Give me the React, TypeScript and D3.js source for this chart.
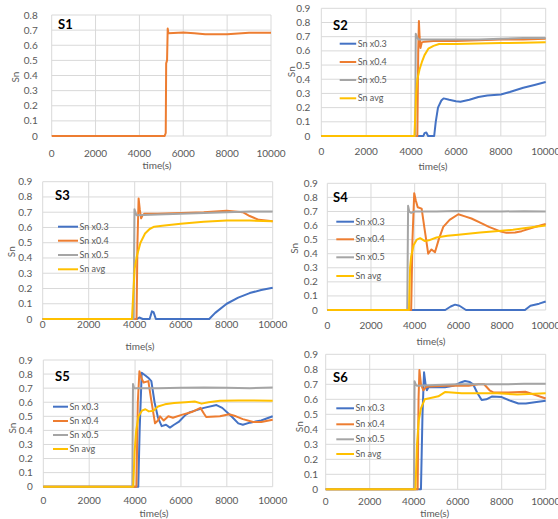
import React from "react";
import * as d3 from "d3";

type Pt = [number, number];

const TIME_TICKS = [0, 2000, 4000, 6000, 8000, 10000];
const SERIES_NAMES = ["Sn x0.3", "Sn x0.4", "Sn x0.5", "Sn avg"];
const COLORS = ["#4472C4", "#ED7D31", "#A5A5A5", "#FFC000"];

// S1 - single series
const S1_X04: Pt[] = [[0,0],[5150,0],[5200,0.02],[5220,0.48],[5260,0.5],[5290,0.71],[5320,0.68],[6000,0.685],[6500,0.68],[7000,0.672],[8000,0.672],[8500,0.678],[9000,0.682],[10000,0.682]];

// S2
const S2_X03: Pt[] = [[0,0],[4550,0],[4600,0.02],[4680,0.025],[4760,0],[5030,0],[5100,0.1],[5200,0.2],[5350,0.25],[5450,0.265],[5700,0.255],[6000,0.245],[6200,0.242],[6600,0.255],[7000,0.275],[7400,0.285],[8000,0.293],[8400,0.31],[9000,0.34],[9500,0.36],[10000,0.38]];
const S2_X04: Pt[] = [[0,0],[4280,0],[4320,0.6],[4350,0.81],[4380,0.7],[4420,0.62],[4480,0.66],[4600,0.665],[5000,0.67],[6000,0.67],[7000,0.675],[8000,0.68],[9000,0.68],[10000,0.685]];
const S2_X05: Pt[] = [[0,0],[4180,0],[4210,0.72],[4260,0.7],[4330,0.68],[5000,0.68],[6000,0.68],[7000,0.68],[8000,0.685],[9000,0.69],[10000,0.69]];
const S2_AVG: Pt[] = [[0,0],[4150,0],[4230,0.3],[4280,0.4],[4380,0.47],[4480,0.52],[4600,0.57],[4770,0.615],[5000,0.635],[5250,0.648],[6000,0.648],[7000,0.652],[8000,0.655],[9000,0.658],[10000,0.66]];

// S3
const S3_X03: Pt[] = [[0,0],[4100,0],[4200,0.01],[4350,0],[4650,0],[4750,0.05],[4820,0.045],[4920,0],[7240,0],[7500,0.04],[8000,0.1],[8500,0.14],[9000,0.17],[9500,0.19],[10000,0.205]];
const S3_X04: Pt[] = [[0,0],[4080,0],[4120,0.5],[4170,0.79],[4220,0.72],[4280,0.66],[4340,0.68],[4420,0.69],[5000,0.69],[6000,0.695],[7000,0.7],[8000,0.71],[8700,0.7],[9000,0.675],[9400,0.65],[10000,0.64]];
const S3_X05: Pt[] = [[0,0],[3950,0],[3990,0.72],[4030,0.7],[4080,0.68],[5000,0.685],[6000,0.69],[7000,0.695],[8000,0.7],[9000,0.705],[10000,0.705]];
const S3_AVG: Pt[] = [[0,0],[3880,0],[3950,0.2],[4000,0.33],[4090,0.41],[4250,0.5],[4450,0.56],[4650,0.59],[4850,0.605],[5200,0.612],[6000,0.625],[7000,0.638],[8000,0.645],[9000,0.645],[10000,0.64]];

// S4
const S4_X03: Pt[] = [[0,0],[3900,0],[5400,0],[5650,0.025],[5850,0.038],[6050,0.03],[6350,0],[9050,0],[9300,0.03],[9700,0.045],[10000,0.06]];
const S4_X04: Pt[] = [[0,0],[3840,0],[3900,0.5],[3980,0.83],[4050,0.78],[4140,0.73],[4320,0.72],[4450,0.58],[4620,0.4],[4770,0.43],[4930,0.41],[5100,0.5],[5310,0.59],[5600,0.64],[6000,0.68],[6300,0.665],[6600,0.65],[7000,0.62],[7400,0.59],[7900,0.56],[8200,0.548],[8600,0.55],[8900,0.56],[9500,0.59],[10000,0.612]];
const S4_X05: Pt[] = [[0,0],[3660,0],[3700,0.74],[3750,0.7],[3840,0.69],[4000,0.7],[5000,0.7],[6000,0.703],[7000,0.7],[8000,0.7],[9000,0.702],[10000,0.7]];
const S4_AVG: Pt[] = [[0,0],[3740,0],[3790,0.3],[3840,0.38],[3950,0.46],[4100,0.5],[4250,0.51],[4470,0.49],[4650,0.495],[5000,0.515],[5500,0.527],[6000,0.535],[7000,0.55],[7700,0.56],[8500,0.57],[9000,0.58],[10000,0.6]];

// S5
const S5_X03: Pt[] = [[0,0],[4140,0],[4200,0.4],[4290,0.81],[4450,0.79],[4600,0.77],[4710,0.75],[4850,0.6],[5000,0.49],[5160,0.43],[5350,0.44],[5520,0.42],[5700,0.44],[5900,0.46],[6200,0.51],[6400,0.53],[7000,0.56],[7550,0.58],[7800,0.56],[8200,0.5],[8500,0.45],[8700,0.44],[9000,0.455],[9500,0.47],[10000,0.5]];
const S5_X04: Pt[] = [[0,0],[4060,0],[4120,0.6],[4190,0.82],[4280,0.77],[4370,0.74],[4580,0.75],[4700,0.62],[4870,0.45],[5000,0.47],[5090,0.5],[5250,0.47],[5450,0.5],[5650,0.49],[6030,0.51],[6470,0.53],[6850,0.56],[7000,0.52],[7100,0.495],[7700,0.5],[8100,0.515],[8400,0.5],[8700,0.48],[9150,0.46],[9500,0.46],[10000,0.475]];
const S5_X05: Pt[] = [[0,0],[3880,0],[3910,0.73],[3960,0.7],[4050,0.7],[5000,0.7],[6000,0.703],[7000,0.705],[8000,0.702],[9000,0.7],[10000,0.705]];
const S5_AVG: Pt[] = [[0,0],[3920,0],[3980,0.25],[4050,0.4],[4150,0.5],[4300,0.54],[4450,0.55],[4600,0.535],[4800,0.54],[5000,0.57],[5300,0.585],[5700,0.595],[6200,0.6],[6600,0.605],[6900,0.59],[7200,0.6],[7700,0.61],[8500,0.612],[9000,0.612],[10000,0.61]];

// S6
const S6_X03: Pt[] = [[0,0],[4330,0],[4400,0.5],[4470,0.78],[4540,0.7],[4600,0.66],[4670,0.68],[5000,0.68],[5420,0.68],[5800,0.69],[6100,0.71],[6330,0.722],[6550,0.715],[6700,0.7],[6900,0.64],[7090,0.595],[7300,0.6],[7550,0.618],[8000,0.615],[8400,0.59],[8760,0.572],[9100,0.572],[9500,0.58],[10000,0.59]];
const S6_X04: Pt[] = [[0,0],[4180,0],[4220,0.6],[4260,0.795],[4330,0.7],[4440,0.66],[4550,0.68],[4670,0.685],[5500,0.69],[6500,0.69],[6940,0.7],[7200,0.7],[7450,0.66],[7640,0.645],[8300,0.645],[9076,0.65],[9500,0.63],[10000,0.605]];
const S6_X05: Pt[] = [[0,0],[4010,0],[4040,0.72],[4090,0.7],[4150,0.69],[5000,0.695],[6000,0.7],[7000,0.7],[8000,0.7],[9000,0.703],[10000,0.703]];
const S6_AVG: Pt[] = [[0,0],[4080,0],[4150,0.3],[4230,0.46],[4330,0.54],[4500,0.6],[4820,0.61],[5120,0.62],[5420,0.648],[6180,0.64],[7000,0.64],[7800,0.64],[8700,0.632],[10000,0.64]];

const FONT = "Lato, 'Open Sans', sans-serif";
const TICK_COLOR = "#595959";
const GRID = "#d9d9d9";

type Panel = {
  title: string;
  x0: number; x1: number; yTop: number; yBot: number; yMax: number;
  series: (Pt[] | null)[]; // in order blue, orange, grey, yellow
  legend?: { x: number; ys: number[]; len: number };
  titlePos: [number, number];
  snPos: [number, number];
  xLabelY: number;
  timePos: [number, number];
  tickGap: number;
};

const panels: Panel[] = [
  { title: "S1", x0: 51.7, x1: 271, yTop: 15, yBot: 136, yMax: 0.8,
    series: [null, S1_X04, null, null],
    titlePos: [58, 28.5], snPos: [15, 77], xLabelY: 157, timePos: [157, 169], tickGap: 14 },
  { title: "S2", x0: 321.3, x1: 545.7, yTop: 8.3, yBot: 136, yMax: 0.9,
    series: [S2_X03, S2_X04, S2_X05, S2_AVG],
    legend: { x: 339.7, ys: [43.7, 62, 80, 98.3], len: 16.5 },
    titlePos: [333, 30], snPos: [291.3, 71.7], xLabelY: 154.5, timePos: [433, 169.5], tickGap: 11 },
  { title: "S3", x0: 42.7, x1: 272.7, yTop: 181.7, yBot: 319, yMax: 0.9,
    series: [S3_X03, S3_X04, S3_X05, S3_AVG],
    legend: { x: 58, ys: [226.7, 240.7, 255, 269.3], len: 20 },
    titlePos: [55, 200], snPos: [11.7, 251.7], xLabelY: 327.5, timePos: [140, 349.5], tickGap: 10.5 },
  { title: "S4", x0: 327.3, x1: 545.7, yTop: 183.3, yBot: 310, yMax: 0.9,
    series: [S4_X03, S4_X04, S4_X05, S4_AVG],
    legend: { x: 336.3, ys: [221.7, 239.3, 257.3, 276], len: 17.7 },
    titlePos: [333, 201.5], snPos: [294.7, 248.3], xLabelY: 328.5, timePos: [431, 344.5], tickGap: 9.5 },
  { title: "S5", x0: 43.3, x1: 272.7, yTop: 360, yBot: 486.7, yMax: 0.9,
    series: [S5_X03, S5_X04, S5_X05, S5_AVG],
    legend: { x: 53, ys: [406.7, 421, 435, 449], len: 15 },
    titlePos: [55, 380.5], snPos: [12.7, 428], xLabelY: 504, timePos: [154, 517], tickGap: 10.5 },
  { title: "S6", x0: 325.7, x1: 545.7, yTop: 354.3, yBot: 489.3, yMax: 0.9,
    series: [S6_X03, S6_X04, S6_X05, S6_AVG],
    legend: { x: 336.3, ys: [408.3, 424.3, 439.3, 454], len: 17.7 },
    titlePos: [333, 381.5], snPos: [299.7, 426.7], xLabelY: 504.5, timePos: [434.7, 517], tickGap: 7.7 },
];

function ChartPanel({ p }: { p: Panel }) {
  const x = d3.scaleLinear().domain([0, 10000]).range([p.x0, p.x1]);
  const y = d3.scaleLinear().domain([0, p.yMax]).range([p.yBot, p.yTop]);
  const yTicks = d3.range(0, Math.round(p.yMax * 10) + 1).map((i) => i / 10);
  const line = d3
    .line<Pt>()
    .x((d) => x(d[0]))
    .y((d) => y(d[1]));
  const fmt = (v: number) => (v === 0 ? "0" : d3.format(".1f")(v));

  return (
    <g>
      {/* grid */}
      {yTicks.map((t) => (
        <line key={"h" + t} x1={p.x0} x2={p.x1} y1={y(t)} y2={y(t)} stroke={GRID} strokeWidth={1} />
      ))}
      {TIME_TICKS.map((t) => (
        <line key={"v" + t} x1={x(t)} x2={x(t)} y1={p.yTop} y2={p.yBot} stroke={GRID} strokeWidth={1} />
      ))}
      {/* tick labels */}
      {yTicks.map((t) => (
        <text key={"yl" + t} x={p.x0 - p.tickGap} y={y(t)} dy="0.35em" textAnchor="end"
          fontSize={10} fill={TICK_COLOR} fontFamily={FONT}>
          {fmt(t)}
        </text>
      ))}
      {TIME_TICKS.map((t) => (
        <text key={"xl" + t} x={x(t)} y={p.xLabelY} textAnchor="middle"
          fontSize={10} fill={TICK_COLOR} fontFamily={FONT}>
          {t}
        </text>
      ))}
      {/* series */}
      {p.series.map((s, i) =>
        s ? (
          <path key={"s" + i} d={line(s) || ""} fill="none" stroke={COLORS[i]}
            strokeWidth={2} strokeLinejoin="round" />
        ) : null
      )}
      {/* legend */}
      {p.legend &&
        SERIES_NAMES.map((name, i) => (
          <g key={"lg" + i}>
            <line x1={p.legend!.x} x2={p.legend!.x + p.legend!.len} y1={p.legend!.ys[i]} y2={p.legend!.ys[i]}
              stroke={COLORS[i]} strokeWidth={2} />
            <text x={p.legend!.x + p.legend!.len + 1.5} y={p.legend!.ys[i]} dy="0.35em"
              fontSize={9} fill={TICK_COLOR} fontFamily={FONT}>
              {name}
            </text>
          </g>
        ))}
      {/* titles */}
      <text x={p.titlePos[0]} y={p.titlePos[1]} fontSize={13} fontWeight="bold" fill="#000" fontFamily={FONT}>
        {p.title}
      </text>
      <text transform={`translate(${p.snPos[0]},${p.snPos[1]}) rotate(-90)`} textAnchor="middle" dy="0.35em"
        fontSize={10} fill={TICK_COLOR} fontFamily={FONT}>
        Sn
      </text>
      <text x={p.timePos[0]} y={p.timePos[1]} textAnchor="middle" fontSize={10} fill={TICK_COLOR} fontFamily={FONT}>
        time(s)
      </text>
    </g>
  );
}

export default function App() {
  return (
    <div style={{ position: "absolute", left: 0, top: 0 }}>
      <svg width={558} height={519} style={{ display: "block", background: "#fff" }}>
        {panels.map((p) => (
          <ChartPanel key={p.title} p={p} />
        ))}
      </svg>
    </div>
  );
}
